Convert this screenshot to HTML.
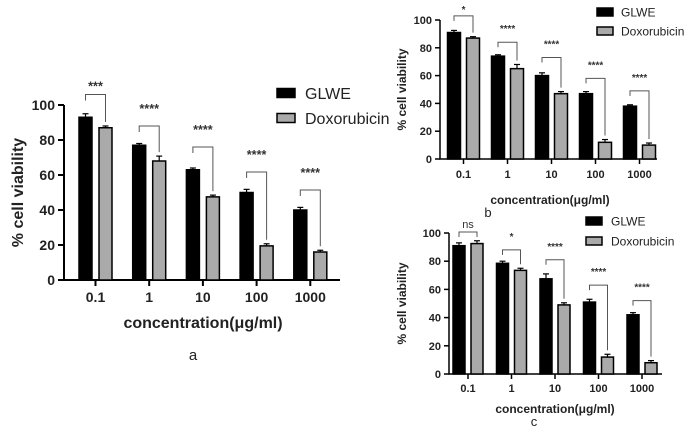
<!DOCTYPE html>
<html><head><meta charset="utf-8"><style>
html,body{margin:0;padding:0;background:#fff;}
svg{display:block;font-family:"Liberation Sans",Arial,sans-serif;}
</style></head><body>
<svg id="chart" width="685" height="429" viewBox="0 0 685 429" xmlns="http://www.w3.org/2000/svg"></svg>
<script>
const categories = ["0.1","1","10","100","1000"];
const yTicks = [0,20,40,60,80,100];
const glweA = [93,77,63,50,40];
const doxoA = [87,68,47.5,19.5,16];
const glweErrA = [2,1,1,1.8,1.5];
const doxoErrA = [1,2.8,1,1.2,1];
const sigA = ["***","****","****","****","****"];
const bracketA = [106,88,76,61.7,51.4];
const glweB = [91,74,60,47,38];
const doxoB = [87,65,47,12,10];
const glweErrB = [1.5,1,2,1.5,1];
const doxoErrB = [1,3,1.5,2,1.5];
const sigB = ["*","****","****","****","****"];
const bracketB = [103,84,73,58,49];
const glweC = [91,78.5,67.5,51,42];
const doxoC = [92.5,73.5,49,12,8];
const glweErrC = [2,1.5,3.5,2,1.5];
const doxoErrC = [2,1.5,1.5,2,1.5];
const sigC = ["ns","*","****","****","****"];
const bracketC = [100.7,88,81,63,52];

const NS="http://www.w3.org/2000/svg";
const svg=document.getElementById('chart');
function el(tag,attrs,parent){const e=document.createElementNS(NS,tag);for(const k in attrs)e.setAttribute(k,attrs[k]);(parent||svg).appendChild(e);return e;}

function panel(p){
  const g=el('g',{});
  
  
  const y=v=>p.y0-(v/100)*(p.y0-p.y100);
  const x=i=>p.x0c+i*p.step;
  const ax=el('path',{d:`M${p.ax},${p.y100} V${p.y0} H${p.axEnd}`,stroke:'#000','stroke-width':p.lw,fill:'none'},g);
  
  
  yTicks.forEach(t=>{
    el('line',{x1:p.ax-p.tick,x2:p.ax,y1:y(t),y2:y(t),stroke:'#000','stroke-width':p.lw},g);
    const tx=el('text',{x:p.ax-p.tick-3,y:y(t)+p.fs*0.36,'font-size':p.fs,'font-weight':'bold','text-anchor':'end',fill:'#222'},g);
    tx.textContent=t;
    
    
  });
  categories.forEach((c,i)=>{
    el('line',{x1:x(i),x2:x(i),y1:p.y0,y2:p.y0+p.tick,stroke:'#000','stroke-width':p.lw},g);
    const tx=el('text',{x:x(i),y:p.labY,'font-size':p.fs,'font-weight':'bold','text-anchor':'middle',fill:'#222'},g);
    tx.textContent=c;
    
    
    const series=[[p.glwe[i],p.ge[i],'#000',-1],[p.doxo[i],p.de[i],'#aaa',1]];
    series.forEach(([v,e,col,s],k)=>{
      const bx=x(i)+s*(p.gap/2)+(s<0?-p.bw:0);
      el('line',{x1:bx+p.bw/2,x2:bx+p.bw/2,y1:y(v),y2:y(v+e),stroke:'#000','stroke-width':1.2},g);
      el('line',{x1:bx+p.bw/2-3,x2:bx+p.bw/2+3,y1:y(v+e),y2:y(v+e),stroke:'#000','stroke-width':1.2},g);
      const r=el('rect',{x:bx,y:y(v),width:p.bw,height:p.y0-y(v),fill:col,stroke:'#000','stroke-width':1.5},g);
      
      
    });
    const lx=x(i)-p.gap/2-p.bw/2, rx=x(i)+p.gap/2+p.bw/2;
    const top=y(p.br[i]);
    const lb=Math.min(y(p.glwe[i]+p.ge[i])-4, top+p.legL);
    const rb=y(p.doxo[i]+p.de[i])-4;
    const br=el('path',{d:`M${lx},${lb} V${top} H${rx} V${Math.max(rb,top+p.legL)}`,stroke:'#555','stroke-width':1,fill:'none'},g);
    
    
    const isNs=p.sig[i]==='ns';
    const gapY = i===0 ? p.starGap0 : p.starGap;
    const st=el('text',{x:(lx+rx)/2,y:top-gapY,'font-size':isNs?p.fs:p.fs*0.9,'font-weight':isNs?'normal':'bold','text-anchor':'middle',fill:'#333'},g);
    st.textContent=p.sig[i];
    
    
  });
  const yt=el('text',{transform:`translate(${p.ytX},${(p.y0+p.y100)/2}) rotate(-90)`,'font-size':p.tfs,'font-weight':'bold','text-anchor':'middle',fill:'#222'},g);
  yt.textContent='% cell viability';
  
  
  const xt=el('text',{x:p.xtX,y:p.xtY,'font-size':p.tfs,'font-weight':'bold','text-anchor':'middle',fill:'#222'},g);
  xt.textContent='concentration(μg/ml)';
  
  
  const pl=el('text',{x:p.plX,y:p.plY,'font-size':p.plfs,'text-anchor':'middle',fill:'#222'},g);
  pl.textContent=p.id;
  
  
  [['GLWE','#000',p.lgY1],['Doxorubicin','#aaa',p.lgY2]].forEach(([n,col,ly])=>{
    const sw=el('rect',{x:p.lgX,y:ly-p.sh/2,width:p.sw,height:p.sh,fill:col,stroke:'#000','stroke-width':1.5},g);
    
    
    const lt=el('text',{x:p.lgX+p.sw+p.lgGap,y:ly+p.lfs*0.36,'font-size':p.lfs,fill:'#222'},g);
    lt.textContent=n;
    
    
  });
}

panel({id:'a',glwe:glweA,doxo:doxoA,ge:glweErrA,de:doxoErrA,sig:sigA,br:bracketA,
  ax:64,axEnd:340,y0:280,y100:105,x0c:95.5,step:53.7,bw:13,gap:7,lw:2,tick:6,fs:14,labY:302,
  legL:6,starGap0:4,starGap:13,ytX:23,xtX:203,xtY:328,tfs:16,plX:193,plY:360,plfs:15,
  lgX:277,lgY1:93,lgY2:118,sw:18,sh:9,lgGap:10,lfs:16});
panel({id:'b',glwe:glweB,doxo:doxoB,ge:glweErrB,de:doxoErrB,sig:sigB,br:bracketB,
  ax:440,axEnd:657,y0:159,y100:20,x0c:463.5,step:44,bw:13,gap:6,lw:1.5,tick:5,fs:11,labY:178,
  legL:5,starGap0:3,starGap:10,ytX:406,xtX:550,xtY:204,tfs:12,plX:488,plY:217,plfs:13,
  lgX:597,lgY1:12,lgY2:31,sw:16,sh:8,lgGap:8,lfs:12});
panel({id:'c',glwe:glweC,doxo:doxoC,ge:glweErrC,de:doxoErrC,sig:sigC,br:bracketC,
  ax:449,axEnd:662,y0:374,y100:233,x0c:468,step:43.5,bw:12,gap:6,lw:1.5,tick:5,fs:11,labY:392,
  legL:5,starGap0:4,starGap:10,ytX:406,xtX:555,xtY:413,tfs:12,plX:534,plY:426,plfs:13,
  lgX:586,lgY1:221,lgY2:241,sw:16,sh:8,lgGap:9,lfs:12});
</script>
</body></html>
